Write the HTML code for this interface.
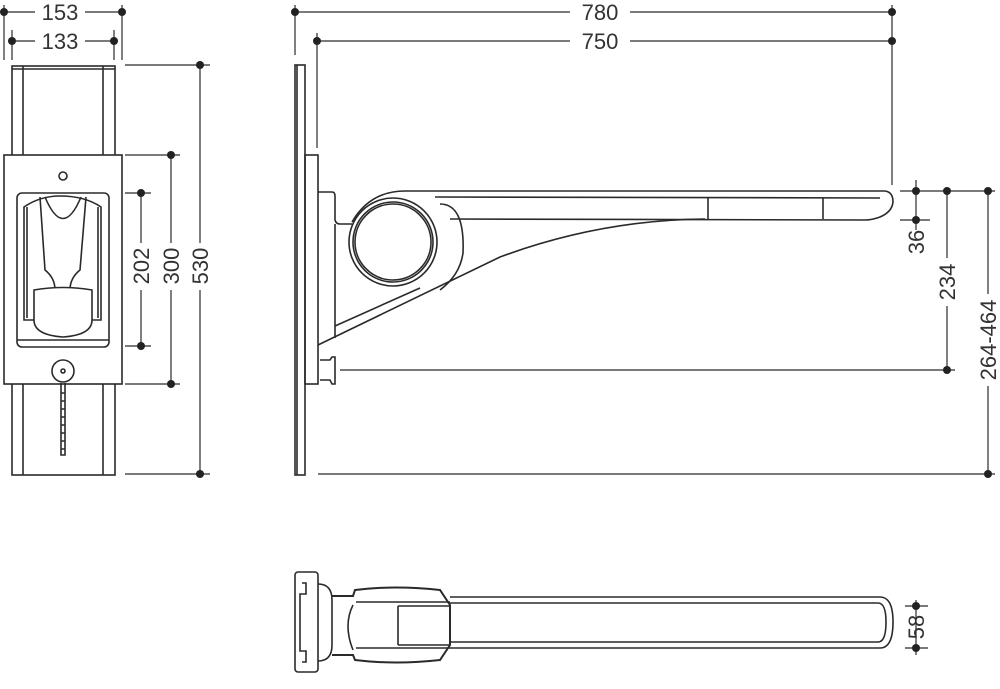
<!DOCTYPE html>
<html><head><meta charset="utf-8"><style>
html,body{margin:0;padding:0;background:#fff;}
svg{display:block;}
text{font-family:"Liberation Sans",sans-serif;font-size:22px;fill:#333;}
</style></head><body>
<svg width="1000" height="689" viewBox="0 0 1000 689" xmlns="http://www.w3.org/2000/svg">
<g stroke="#2a2a2a" stroke-width="1.6" fill="none">
<!-- FRONT VIEW -->
<rect x="12" y="66" width="103" height="409" fill="#fff"/>
<line x1="23" y1="66" x2="23" y2="475"/><line x1="103" y1="66" x2="103" y2="475"/>
<line x1="12" y1="69" x2="115" y2="69"/>
<rect x="4" y="155" width="118" height="229" fill="#fff"/>
<circle cx="63" cy="176" r="4"/>
<rect x="17" y="193" width="92" height="154" rx="5"/>
<line x1="17" y1="340" x2="109" y2="340"/>
<path d="M24 207 Q40 196 60 196 Q85 196 101 207 L101 320 L24 320 Z"/>
<path d="M27 207 L27 318 M98 207 L98 318"/>
<path d="M40 197 L45 270 Q55 278 55 290 M86 197 L80 270 Q70 278 70 290"/>
<path d="M45 197 Q63 240 81 197"/>
<path d="M55 290 L55 318 M70 290 L70 318"/>
<path d="M34 290 Q63 285 92 290 L92 320 Q92 335 63 337 Q34 335 34 320 Z" fill="#fff"/>
<circle cx="63" cy="371" r="11"/><circle cx="63" cy="371" r="2"/>
<path d="M61 383 L61 455 L65 455 L65 383" />
<path d="M61 393 h4 M61 401 h4 M61 409 h4 M61 417 h4 M61 425 h4 M61 433 h4 M61 441 h4 M61 449 h4"/>
<!-- front dims -->
<line x1="4" y1="5" x2="4" y2="60" stroke-width="1.2"/><line x1="122" y1="5" x2="122" y2="60" stroke-width="1.2"/>
<line x1="4" y1="12" x2="35" y2="12" stroke-width="1.2"/><line x1="85" y1="12" x2="122" y2="12" stroke-width="1.2"/>
<line x1="12" y1="30" x2="12" y2="60" stroke-width="1.2"/><line x1="114" y1="30" x2="114" y2="60" stroke-width="1.2"/>
<line x1="12" y1="41" x2="35" y2="41" stroke-width="1.2"/><line x1="85" y1="41" x2="114" y2="41" stroke-width="1.2"/>
<g stroke-width="1.2">
<line x1="125" y1="65" x2="210" y2="65"/><line x1="125" y1="474" x2="210" y2="474"/>
<line x1="125" y1="155" x2="180" y2="155"/><line x1="125" y1="384" x2="180" y2="384"/>
<line x1="125" y1="193" x2="151" y2="193"/><line x1="125" y1="346" x2="151" y2="346"/>
<line x1="200" y1="65" x2="200" y2="243"/><line x1="200" y1="290" x2="200" y2="474"/>
<line x1="171" y1="155" x2="171" y2="243"/><line x1="171" y1="290" x2="171" y2="384"/>
<line x1="141" y1="193" x2="141" y2="243"/><line x1="141" y1="290" x2="141" y2="346"/>
</g>
<!-- SIDE VIEW -->
<rect x="295" y="65" width="10" height="410"/>
<line x1="297" y1="65" x2="297" y2="475"/>
<rect x="305" y="155" width="13" height="229"/>
<path d="M318 192 L332 192 Q335 192 335 196 L335 220 Q336 224 340 224 L352 224"/>
<path d="M335 224 L335 338"/>
<circle cx="393" cy="242" r="44"/>
<circle cx="393" cy="242" r="40"/>
<circle cx="393" cy="242" r="38"/>
<path d="M352 222 Q370 191 405 191 L885 191 Q893 192 893 202 Q892 212 880 217 Q872 220 865 220 L450 219"/>
<path d="M435 197 L880 198 M440 204 Q465 204 463 253 Q460 275 440 290"/>
<line x1="708" y1="198" x2="708" y2="219"/><line x1="823" y1="198" x2="823" y2="219"/>
<path d="M335 326 L420 288"/>
<path d="M318 345 L500 257 Q600 220 705 219"/>
<path d="M320 360 L330 360 L332 357 L335 357 L335 384 L332 384 L330 380 L320 380"/>
<g stroke-width="1.2">
<line x1="295" y1="5" x2="295" y2="55"/><line x1="892" y1="5" x2="892" y2="185"/>
<line x1="295" y1="12" x2="570" y2="12"/><line x1="630" y1="12" x2="892" y2="12"/>
<line x1="317" y1="33" x2="317" y2="148"/>
<line x1="317" y1="41" x2="570" y2="41"/><line x1="630" y1="41" x2="892" y2="41"/>
<line x1="340" y1="370" x2="955" y2="370"/>
<line x1="318" y1="474" x2="995" y2="474"/>
<line x1="900" y1="191" x2="995" y2="191"/><line x1="900" y1="220" x2="930" y2="220"/>
<line x1="916" y1="180" x2="916" y2="230"/>
<line x1="947" y1="191" x2="947" y2="258"/><line x1="947" y1="306" x2="947" y2="370"/>
<line x1="988" y1="191" x2="988" y2="294"/><line x1="988" y1="386" x2="988" y2="474"/>
</g>
<!-- TOP VIEW -->
<rect x="295" y="572" width="23" height="100" rx="3"/>
<path d="M302 583 L306 583 L306 594 L300 594 L300 651 L306 651 L306 662 L302 662"/>
<path d="M318 584 Q332 584 332 600 L332 645 Q332 661 318 661"/>
<path d="M332 596 L353 596 L355 590 Q395 585 440 590 L450 605 L450 645 L440 660 Q395 665 355 660 L353 655 L332 655" stroke-width="2"/>
<path d="M353 605 Q343 625 353 650"/>
<path d="M356 602 L450 602 M356 648 L450 648"/>
<path d="M398 606 L398 645 M398 606 L450 606 M398 645 L450 645"/>
<path d="M450 597 L880 597 Q893 597 893 622 Q893 648 880 648 L450 648"/>
<path d="M450 603 L878 603 Q886 603 886 622 Q886 642 878 642 L450 642"/>
<g stroke-width="1.2">
<line x1="905" y1="606" x2="928" y2="606"/><line x1="905" y1="648" x2="928" y2="648"/>
<line x1="916" y1="600" x2="916" y2="655"/>
</g>
</g>
<g fill="#222">
<circle cx="4" cy="12" r="4"/><circle cx="122" cy="12" r="4"/>
<circle cx="12" cy="41" r="4"/><circle cx="114" cy="41" r="4"/>
<circle cx="200" cy="65" r="4"/><circle cx="200" cy="474" r="4"/>
<circle cx="171" cy="155" r="4"/><circle cx="171" cy="384" r="4"/>
<circle cx="141" cy="193" r="4"/><circle cx="141" cy="346" r="4"/>
<circle cx="295" cy="12" r="4"/><circle cx="892" cy="12" r="4"/>
<circle cx="317" cy="41" r="4"/><circle cx="892" cy="41" r="4"/>
<circle cx="916" cy="191" r="4"/><circle cx="916" cy="220" r="4"/>
<circle cx="947" cy="191" r="4"/><circle cx="947" cy="370" r="4"/>
<circle cx="988" cy="191" r="4"/><circle cx="988" cy="474" r="4"/>
<circle cx="916" cy="606" r="4"/><circle cx="916" cy="648" r="4"/>
</g>
<text x="60" y="20" text-anchor="middle">153</text>
<text x="60" y="49" text-anchor="middle">133</text>
<text x="600" y="20" text-anchor="middle">780</text>
<text x="600" y="49" text-anchor="middle">750</text>
<text transform="translate(149,266) rotate(-90)" text-anchor="middle">202</text>
<text transform="translate(179,266) rotate(-90)" text-anchor="middle">300</text>
<text transform="translate(208,266) rotate(-90)" text-anchor="middle">530</text>
<text transform="translate(924,242) rotate(-90)" text-anchor="middle">36</text>
<text transform="translate(955,282) rotate(-90)" text-anchor="middle">234</text>
<text transform="translate(996,340) rotate(-90)" text-anchor="middle">264-464</text>
<text transform="translate(924,627) rotate(-90)" text-anchor="middle">58</text>
</svg>
</body></html>
